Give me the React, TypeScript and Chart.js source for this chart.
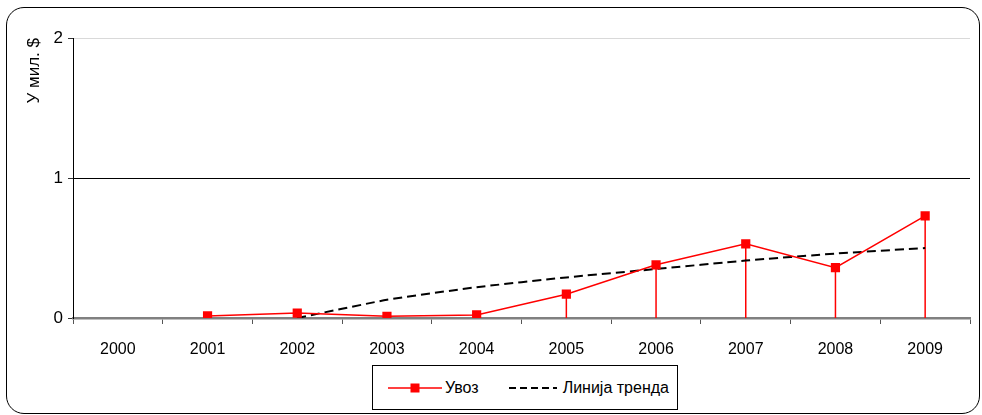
import React, { useEffect, useRef } from "react";
import { Chart, registerables } from "chart.js";

Chart.register(...registerables);

const years = ["2000", "2001", "2002", "2003", "2004", "2005", "2006", "2007", "2008", "2009"];
const imports: (number | null)[] = [null, 0.015, 0.035, 0.012, 0.022, 0.17, 0.38, 0.53, 0.36, 0.73];
const trend: (number | null)[] = [null, null, 0.0, 0.13, 0.22, 0.29, 0.35, 0.41, 0.46, 0.5];
const yTicks = [0, 1, 2];
const seriesNames = ["Увоз", "Линија тренда"];
const yTitle = "У мил. $";

const FONT = "'Liberation Sans', Arial, sans-serif";

const dropLines = {
  id: "dropLines",
  beforeDatasetsDraw(chart: any) {
    const meta = chart.getDatasetMeta(0);
    const yScale = chart.scales.y;
    const ctx = chart.ctx;
    const y0 = yScale.getPixelForValue(0);
    ctx.save();
    ctx.strokeStyle = "#ff0000";
    ctx.lineWidth = 1.5;
    meta.data.forEach((pt: any, i: number) => {
      const v = imports[i];
      if (v === null || v === undefined) return;
      ctx.beginPath();
      ctx.moveTo(pt.x, pt.y);
      ctx.lineTo(pt.x, y0);
      ctx.stroke();
    });
    ctx.restore();
  },
};

export default function App() {
  const ref = useRef<HTMLCanvasElement | null>(null);
  useEffect(() => {
    if (!ref.current) return;
    const chart = new Chart(ref.current, {
      type: "line",
      data: {
        labels: years,
        datasets: [
          {
            label: seriesNames[0],
            data: imports,
            borderColor: "#ff0000",
            backgroundColor: "#ff0000",
            borderWidth: 1.5,
            pointStyle: "rect",
            pointRadius: 6.5,
            pointBorderWidth: 0,
            tension: 0,
            spanGaps: true,
            order: 1,
          },
          {
            label: seriesNames[1],
            data: trend,
            borderColor: "#000000",
            borderWidth: 2,
            borderDash: [9, 5],
            pointRadius: 0,
            tension: 0.15,
            spanGaps: true,
            order: 2,
          },
        ],
      },
      options: {
        animation: false,
        responsive: false,
        maintainAspectRatio: false,
        layout: { padding: { left: 24, right: 12, top: 38, bottom: 0 } },
        plugins: { legend: { display: false }, tooltip: { enabled: false } },
        scales: {
          x: {
            offset: true,
            grid: {
              offset: true,
              drawOnChartArea: false,
              drawTicks: true,
              tickLength: 6,
              tickColor: "#555555",
              tickWidth: 1,
            },
            border: { color: "#808080", width: 2.5 },
            ticks: {
              color: "#000000",
              font: { family: FONT, size: 16 },
              padding: 16,
              maxRotation: 0,
            },
            afterFit(scale: any) {
              scale.height = 97;
            },
          },
          y: {
            min: 0,
            max: 2,
            afterBuildTicks(scale: any) {
              scale.ticks = yTicks.map((v) => ({ value: v }));
            },
            grid: {
              color: (c: any) => (c.tick && c.tick.value === 1 ? "#000000" : c.tick && c.tick.value === 2 ? "#d9d9d9" : "rgba(0,0,0,0)"),
              lineWidth: 1,
              drawTicks: true,
              tickLength: 5,
              tickColor: "#333333",
            },
            border: { color: "#000000", width: 1 },
            ticks: {
              color: "#000000",
              font: { family: FONT, size: 17 },
              padding: 5,
            },
            title: {
              display: true,
              text: yTitle,
              align: "end",
              color: "#000000",
              font: { family: FONT, size: 17 },
              padding: { top: 0, bottom: 0 },
            },
            afterFit(scale: any) {
              scale.width = 49;
            },
          },
        },
      },
      plugins: [dropLines],
    } as any);
    return () => chart.destroy();
  }, []);

  return (
    <div style={{ position: "absolute", left: 0, top: 0, width: 982, height: 415, background: "#fff", fontFamily: FONT }}>
      <div
        style={{
          position: "absolute",
          left: 6,
          top: 7,
          width: 974,
          height: 407,
          border: "1.5px solid #000",
          borderRadius: 18,
          boxSizing: "border-box",
        }}
      />
      <canvas ref={ref} width={982} height={415} style={{ position: "absolute", left: 0, top: 0 }} />
      <div
        style={{
          position: "absolute",
          left: 372,
          top: 365,
          width: 306,
          height: 45,
          border: "1px solid #000",
          boxSizing: "border-box",
          background: "#fff",
          display: "flex",
          alignItems: "center",
          fontSize: 16,
          color: "#000",
        }}
      >
        <svg width={54} height={12} style={{ marginLeft: 15 }}>
          <line x1={0} y1={6} x2={54} y2={6} stroke="#ff0000" strokeWidth={1.5} />
          <rect x={22.5} y={1.5} width={9} height={9} fill="#ff0000" />
        </svg>
        <span style={{ marginLeft: 3 }}>{seriesNames[0]}</span>
        <svg width={48} height={12} style={{ marginLeft: 30 }}>
          <line x1={0} y1={6} x2={48} y2={6} stroke="#000" strokeWidth={2} strokeDasharray="7,4" />
        </svg>
        <span style={{ marginLeft: 6 }}>{seriesNames[1]}</span>
      </div>
    </div>
  );
}
